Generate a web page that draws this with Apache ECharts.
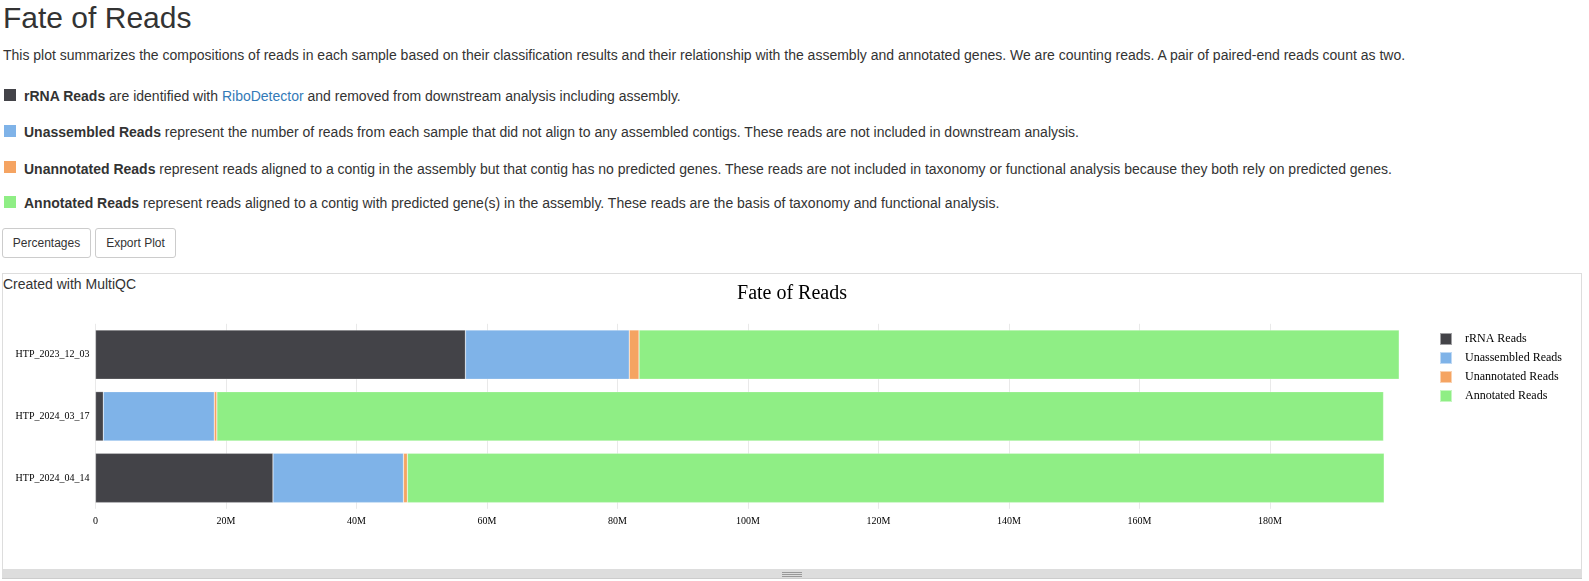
<!DOCTYPE html>
<html>
<head>
<meta charset="utf-8">
<title>Fate of Reads</title>
<script src="https://cdn.jsdelivr.net/npm/echarts@6/dist/echarts.min.js"></script>
<style>
html,body{margin:0;padding:0;width:1589px;height:581px;overflow:hidden;background:#fff;font-family:"Liberation Sans",Arial,sans-serif;font-size:14px;color:#333;}
.abs{position:absolute;white-space:nowrap;}
h1{margin:0;font-weight:400;font-size:30px;line-height:36px;left:3px;top:0;color:#333;}
.sq{position:absolute;left:4px;width:12px;height:12px;}
a{color:#337ab7;text-decoration:none;}
.btn{position:absolute;top:228px;height:30px;box-sizing:border-box;border:1px solid #ccc;border-radius:3px;background:#fff;font-size:12px;line-height:28px;text-align:center;color:#333;}
#box{position:absolute;left:2px;top:273px;width:1580px;height:297px;box-sizing:border-box;border:1px solid #ddd;}
#handle{position:absolute;left:2px;top:569px;width:1580px;height:10px;background:#ddd;border-bottom:1px solid #ccc;box-sizing:border-box;}
#handle i{position:absolute;left:780px;width:20px;height:1px;background:#999;}
#chart{position:absolute;left:0;top:0;width:1589px;height:581px;}
</style>
</head>
<body>
<h1 class="abs">Fate of Reads</h1>
<div class="abs" style="left:3px;top:45px;line-height:20px;">This plot summarizes the compositions of reads in each sample based on their classification results and their relationship with the assembly and annotated genes. We are counting reads. A pair of paired-end reads count as two.</div>

<div class="sq" style="top:89px;background:#434348"></div>
<div class="abs" style="left:24px;top:86px;line-height:20px;"><b>rRNA Reads</b> are identified with <a href="#">RiboDetector</a> and removed from downstream analysis including assembly.</div>
<div class="sq" style="top:125px;background:#7fb3e8"></div>
<div class="abs" style="left:24px;top:122px;line-height:20px;"><b>Unassembled Reads</b> represent the number of reads from each sample that did not align to any assembled contigs. These reads are not included in downstream analysis.</div>
<div class="sq" style="top:161px;background:#f5a462"></div>
<div class="abs" style="left:24px;top:159px;line-height:20px;"><b>Unannotated Reads</b> represent reads aligned to a contig in the assembly but that contig has no predicted genes. These reads are not included in taxonomy or functional analysis because they both rely on predicted genes.</div>
<div class="sq" style="top:196px;background:#8fee85"></div>
<div class="abs" style="left:24px;top:193px;line-height:20px;"><b>Annotated Reads</b> represent reads aligned to a contig with predicted gene(s) in the assembly. These reads are the basis of taxonomy and functional analysis.</div>

<div class="btn" style="left:2px;width:89px;">Percentages</div>
<div class="btn" style="left:95px;width:81px;">Export Plot</div>

<div id="box"></div>
<div id="handle"><i style="top:3px"></i><i style="top:5px"></i><i style="top:7px"></i></div>
<div class="abs" style="left:3px;top:275px;line-height:18px;">Created with MultiQC</div>
<div id="chart"></div>

<script>
const categories = ['HTP_2023_12_03', 'HTP_2024_03_17', 'HTP_2024_04_14'];
const rrnaReads = [56.7, 1.2, 27.2];
const unassembledReads = [25.1, 17.0, 20.0];
const unannotatedReads = [1.5, 0.4, 0.6];
const annotatedReads = [116.5, 178.8, 149.7];
const seriesNames = ['rRNA Reads', 'Unassembled Reads', 'Unannotated Reads', 'Annotated Reads'];
const seriesColors = ['#434348', '#7fb3e8', '#f5a462', '#8fee85'];
const seriesValues = [rrnaReads, unassembledReads, unannotatedReads, annotatedReads];

const serif = '"Liberation Serif","Times New Roman",serif';
const chart = echarts.init(document.getElementById('chart'), null, {renderer: 'canvas'});
chart.setOption({
  animation: false,
  backgroundColor: 'transparent',
  textStyle: {fontFamily: serif},
  title: {
    text: 'Fate of Reads', left: 787, top: 279, textAlign: 'center',
    textStyle: {fontFamily: serif, fontSize: 20, fontWeight: 'normal', color: '#000'}
  },
  legend: {
    orient: 'vertical', left: 1434, top: 327,
    itemWidth: 12, itemHeight: 12, itemGap: 5,
    icon: 'rect',
    data: seriesNames,
    textStyle: {fontFamily: serif, fontSize: 12, color: '#000', padding: [0, 0, 0, 8]}
  },
  grid: {left: 95.5, top: 323.8, width: 1305, height: 185, containLabel: false},
  xAxis: {
    type: 'value', min: 0, max: 200, interval: 20,
    axisLine: {show: false}, axisTick: {show: false},
    splitLine: {show: true, showMaxLine: false, lineStyle: {color: '#e9e9e9', width: 1}},
    axisLabel: {
      fontFamily: serif, fontSize: 10, color: '#000', margin: 8, showMaxLabel: false,
      formatter: v => v === 0 ? '0' : v + 'M'
    }
  },
  yAxis: {
    type: 'category', data: categories, inverse: true,
    axisLine: {show: false}, axisTick: {show: false},
    axisLabel: {fontFamily: serif, fontSize: 10, color: '#000', margin: 6}
  },
  series: seriesNames.map((name, i) => ({
    name, type: 'bar', stack: 'reads', barWidth: '80%',
    data: seriesValues[i],
    itemStyle: {color: seriesColors[i], borderColor: 'rgba(255,255,255,0.5)', borderWidth: 0.5}
  }))
});
</script>
</body>
</html>
